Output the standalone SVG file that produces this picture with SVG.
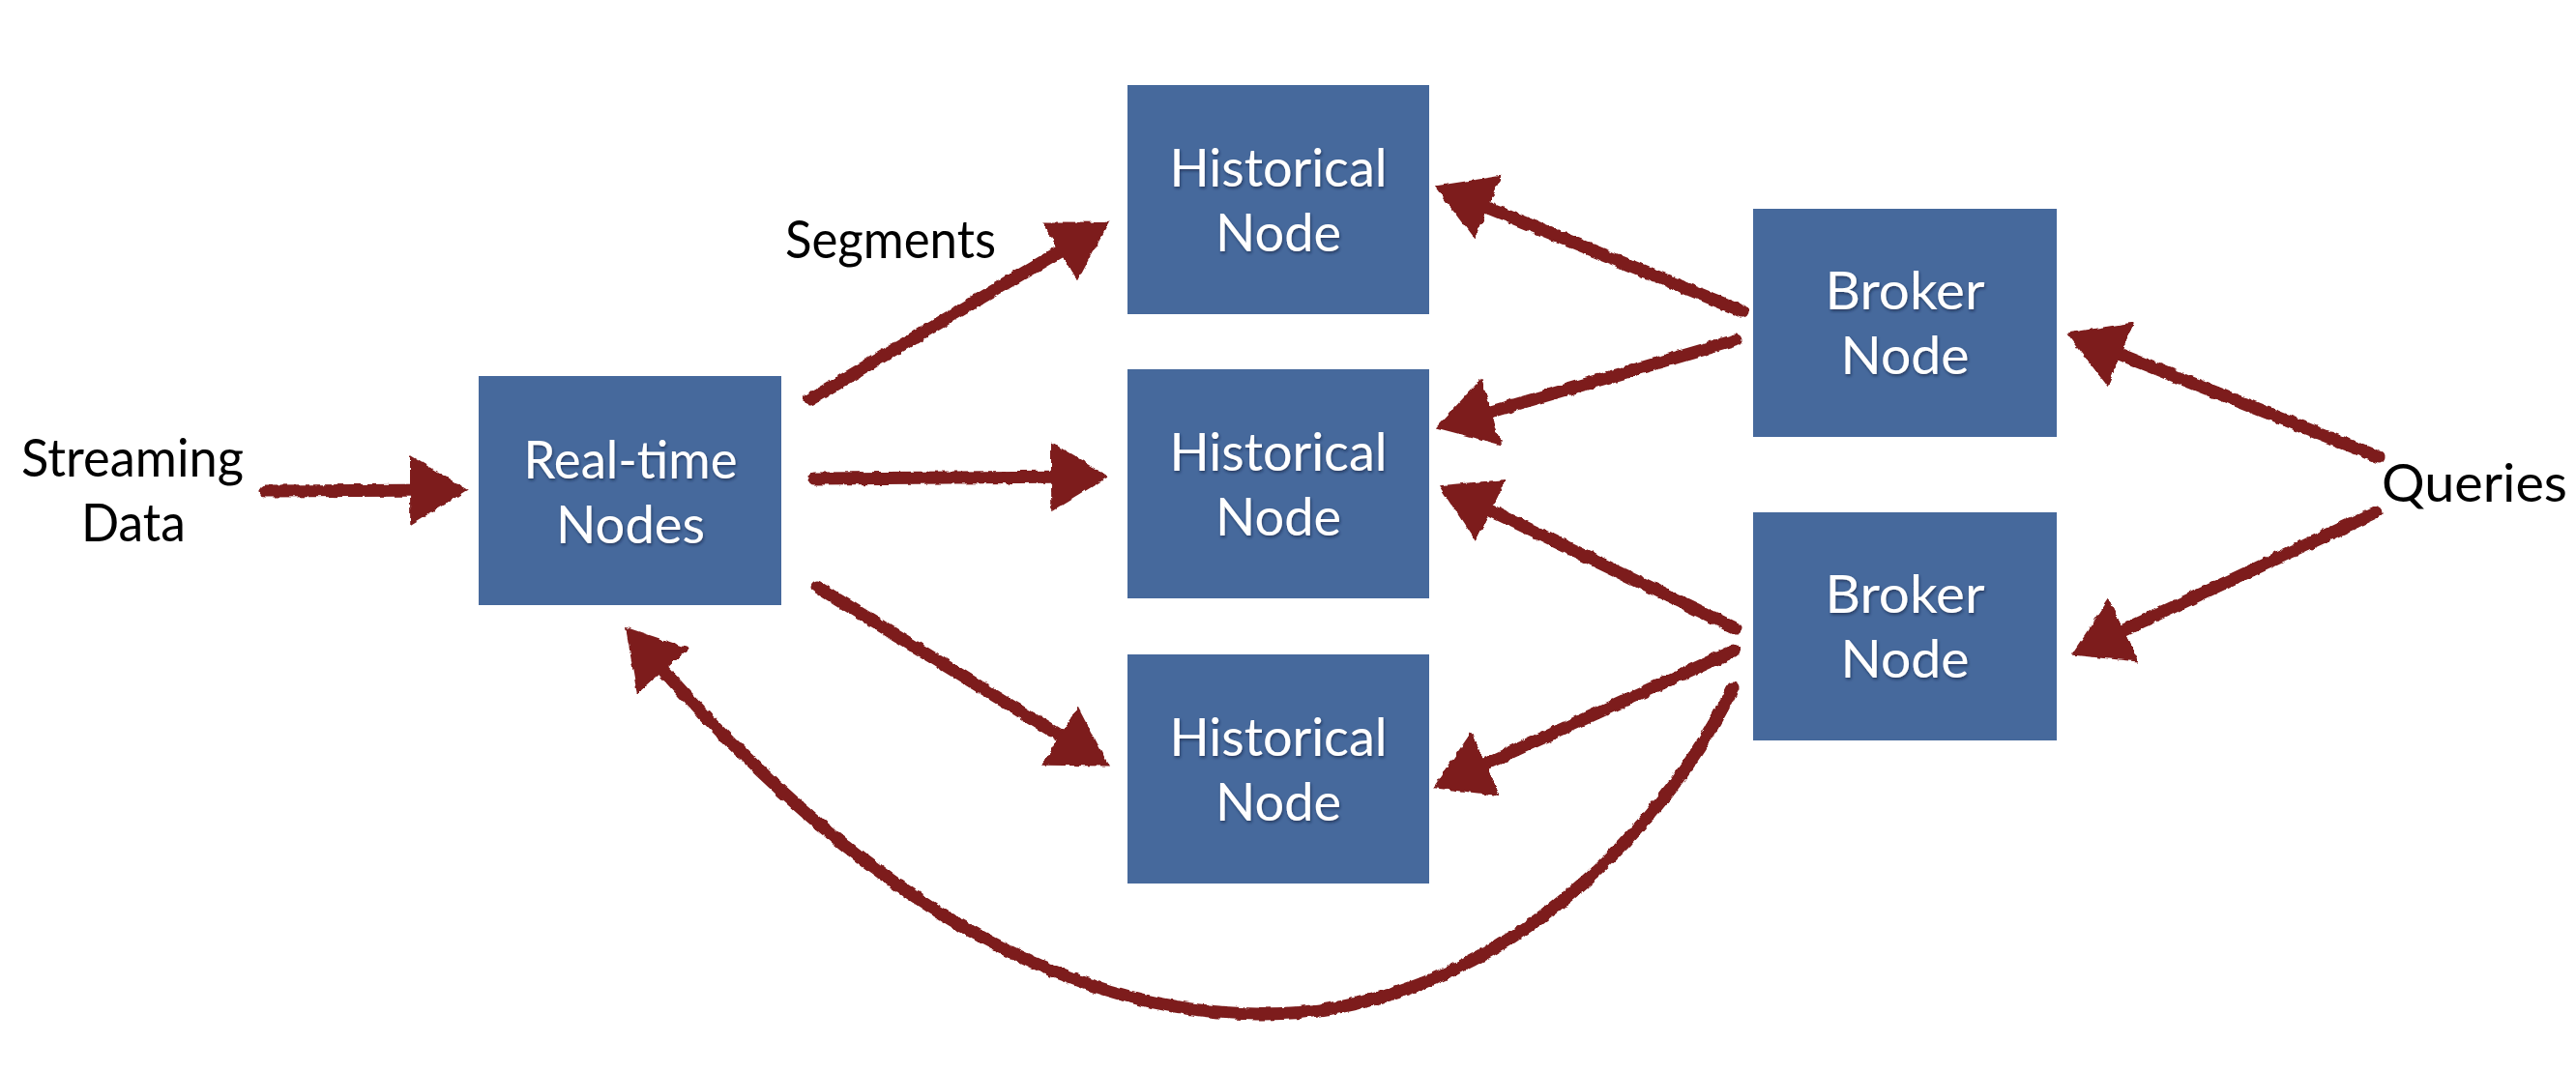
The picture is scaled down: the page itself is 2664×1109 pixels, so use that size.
<svg xmlns="http://www.w3.org/2000/svg" width="2664" height="1109" viewBox="0 0 2664 1109">
<style>
.box{fill:#46699c;}
.nt{font-family:Lato,"Open Sans","Liberation Sans",sans-serif;font-size:55px;fill:#ffffff;text-anchor:middle;filter:url(#tshadow);}
.lbl{font-family:Lato,"Open Sans","Liberation Sans",sans-serif;font-size:55px;fill:#000000;}
.arr{fill:none;stroke:#7d1e1e;stroke-width:13;stroke-linecap:round;marker-end:url(#head);}
</style>
<defs>
<marker id="head" viewBox="0 0 60 72" markerUnits="userSpaceOnUse" markerWidth="60" markerHeight="72" refX="40" refY="36" orient="auto">
<path d="M0,0 L60,36 L0,72 Z" fill="#7d1e1e"/>
</marker>
<filter id="rough" x="-5%" y="-5%" width="110%" height="110%">
<feTurbulence type="fractalNoise" baseFrequency="0.12" numOctaves="2" seed="3" result="n"/>
<feDisplacementMap in="SourceGraphic" in2="n" scale="5" xChannelSelector="R" yChannelSelector="G"/>
</filter>
<filter id="tshadow" x="-10%" y="-20%" width="120%" height="150%">
<feDropShadow dx="1" dy="2" stdDeviation="1.5" flood-color="#13233d" flood-opacity="0.6"/>
</filter>
</defs>

<g id="connectors" filter="url(#rough)">
<path class="arr" d="M274,508 L464,507"/>
<path class="arr" d="M838,413 L1130,240"/>
<path class="arr" d="M842,495 L1127,493"/>
<path class="arr" d="M845,607 L1130,782"/>
<path class="arr" d="M1802,322 L1502,200"/>
<path class="arr" d="M1795,352 L1504,437"/>
<path class="arr" d="M1795,650 L1506,511"/>
<path class="arr" d="M1793,673 L1500,807"/>
<path class="arr" d="M2460,473 L2156,352"/>
<path class="arr" d="M2457,530 L2160,669"/>
<path class="arr" d="M1792,712 C1720,860 1540,1052 1300,1049 C1040,1046 820,850 660,664"/>
</g>

<g id="realtime">
<rect class="box" x="495" y="389" width="313" height="237"/>
<text class="nt" x="652" y="495" textLength="221" lengthAdjust="spacingAndGlyphs">Real-time</text>
<text class="nt" x="652" y="562" textLength="154" lengthAdjust="spacingAndGlyphs">Nodes</text>
</g>
<g id="historical1">
<rect class="box" x="1166" y="88" width="312" height="237"/>
<text class="nt" x="1322" y="193" textLength="225" lengthAdjust="spacingAndGlyphs">Historical</text>
<text class="nt" x="1322" y="260" textLength="130" lengthAdjust="spacingAndGlyphs">Node</text>
</g>
<g id="historical2">
<rect class="box" x="1166" y="382" width="312" height="237"/>
<text class="nt" x="1322" y="487" textLength="225" lengthAdjust="spacingAndGlyphs">Historical</text>
<text class="nt" x="1322" y="554" textLength="130" lengthAdjust="spacingAndGlyphs">Node</text>
</g>
<g id="historical3">
<rect class="box" x="1166" y="677" width="312" height="237"/>
<text class="nt" x="1322" y="782" textLength="225" lengthAdjust="spacingAndGlyphs">Historical</text>
<text class="nt" x="1322" y="849" textLength="130" lengthAdjust="spacingAndGlyphs">Node</text>
</g>
<g id="broker1">
<rect class="box" x="1813" y="216" width="314" height="236"/>
<text class="nt" x="1970" y="320" textLength="165" lengthAdjust="spacingAndGlyphs">Broker</text>
<text class="nt" x="1970" y="387" textLength="133" lengthAdjust="spacingAndGlyphs">Node</text>
</g>
<g id="broker2">
<rect class="box" x="1813" y="530" width="314" height="236"/>
<text class="nt" x="1970" y="634" textLength="165" lengthAdjust="spacingAndGlyphs">Broker</text>
<text class="nt" x="1970" y="701" textLength="133" lengthAdjust="spacingAndGlyphs">Node</text>
</g>
<g id="labels">
<text class="lbl" x="22" y="493" textLength="230" lengthAdjust="spacingAndGlyphs">Streaming</text>
<text class="lbl" x="84" y="560" textLength="108" lengthAdjust="spacingAndGlyphs">Data</text>
<text class="lbl" x="812" y="267" textLength="218" lengthAdjust="spacingAndGlyphs">Segments</text>
<text class="lbl" x="2463" y="519" textLength="192" lengthAdjust="spacingAndGlyphs">Queries</text>
</g>
</svg>
